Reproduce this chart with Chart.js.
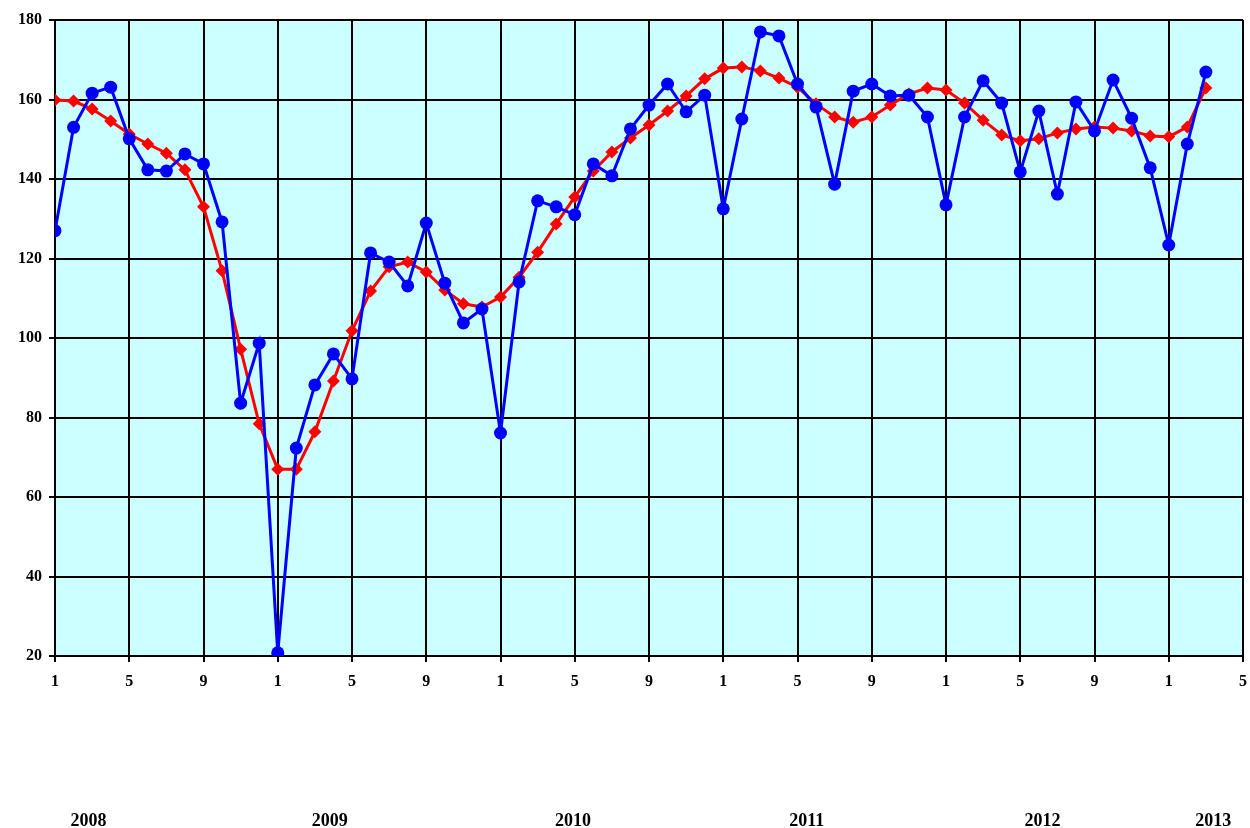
<!DOCTYPE html>
<html>
<head>
<meta charset="utf-8">
<script src="https://cdn.jsdelivr.net/npm/chart.js@4/dist/chart.umd.min.js"></script>
<style>
  html, body { margin: 0; padding: 0; background: #fff; }
  #wrap { width: 1250px; height: 828px; }
</style>
</head>
<body>
<div id="wrap"><canvas id="chart" width="1250" height="828"></canvas></div>
<script>
// Maanedlige vaerdier, jan 2008 - mar 2013
var blueValues = [127, 153, 161.6, 163.1, 150.1, 142.3, 142, 146.3, 143.8, 129.2, 83.6, 98.7,
    20.8, 72.3, 88.2, 96, 89.7, 121.4, 119.1, 113.1, 128.9, 113.8, 103.8, 107.3,
    76.1, 114.1, 134.5, 133, 131, 143.8, 140.8, 152.6, 158.6, 163.9, 156.9, 161.1,
    132.5, 155.1, 177, 176, 163.9, 158.1, 138.7, 162.1, 163.9, 160.9, 161.1, 155.6,
    133.5, 155.6, 164.7, 159.1, 141.8, 157.1, 136.2, 159.4, 152.1, 164.9, 155.3, 142.8,
    123.4, 148.8, 166.9];

var redValues = [159.9, 159.6, 157.6, 154.6, 151.3, 148.8, 146.5, 142.3, 133, 116.9, 97.2, 78.4,
    67, 67, 76.4, 89.2, 101.8, 111.8, 117.9, 119.1, 116.6, 112.1, 108.6, 107.8,
    110.3, 115.3, 121.6, 128.7, 135.5, 142, 146.8, 150.3, 153.6, 157.1, 160.9, 165.2,
    167.9, 168.2, 167.2, 165.4, 163.1, 158.9, 155.6, 154.3, 155.6, 158.6, 161.4, 162.9,
    162.4, 159.1, 154.8, 151.1, 149.6, 150.1, 151.6, 152.6, 153.1, 152.8, 152.1, 150.8,
    150.6, 153.1, 162.9];

var monthLabels = ["1", "5", "9"];
var yearLabels = ["2008", "2009", "2010", "2011", "2012", "2013"];

// hvor aarstallene staar paa x-aksen (i maaneder fra jan 2008)
var yearTickAt = [1.8, 14.8, 27.9, 40.5, 53.2, 62.4];

function toPoints(arr) {
    return arr.map(function (v, i) { return { x: i, y: v }; });
}

var labelFont = { family: "'Liberation Serif', 'Times New Roman', serif", size: 16, weight: 'bold' };

// Farv plotomraadet lyseblaat
var plotBg = {
    id: 'plotBg',
    beforeDraw: function (chart) {
        var a = chart.chartArea;
        var c = chart.ctx;
        c.save();
        c.fillStyle = '#CCFFFF';
        c.fillRect(a.left, a.top, a.right - a.left, a.bottom - a.top);
        c.restore();
    }
};

var ctx = document.getElementById('chart').getContext('2d');
var myChart = new Chart(ctx, {
    type: 'line',
    data: {
        datasets: [
            {
                label: 'blue',
                data: toPoints(blueValues),
                borderColor: '#0000FF',
                backgroundColor: '#0000FF',
                borderWidth: 3,
                pointStyle: 'circle',
                pointRadius: 6.5,
                pointBorderWidth: 0,
                tension: 0,
                order: 1
            },
            {
                label: 'red',
                data: toPoints(redValues),
                borderColor: '#FF0000',
                backgroundColor: '#FF0000',
                borderWidth: 3,
                pointStyle: 'rectRot',
                pointRadius: 6.5,
                pointBorderWidth: 0,
                tension: 0,
                order: 2
            }
        ]
    },
    options: {
        responsive: false,
        animation: false,
        layout: { padding: { top: 20, right: 7, left: 0, bottom: 0 } },
        plugins: {
            legend: { display: false },
            tooltip: { enabled: false }
        },
        scales: {
            x: {
                type: 'linear',
                position: 'bottom',
                min: 0,
                max: 64,
                weight: 0,
                afterBuildTicks: function (axis) {
                    var t = [];
                    for (var v = 0; v <= 64; v += 4) t.push({ value: v });
                    axis.ticks = t;
                },
                afterFit: function (axis) {
                    axis.height = 40;
                    axis.paddingLeft = 0;
                    axis.paddingRight = 0;
                },
                ticks: {
                    color: '#000',
                    font: labelFont,
                    padding: 10,
                    maxRotation: 0,
                    autoSkip: false,
                    callback: function (v) { return monthLabels[(v % 12) / 4]; }
                },
                grid: { color: '#000', lineWidth: 2, tickLength: 6, drawTicks: true },
                border: { color: '#000', width: 2 }
            },
            xYear: {
                type: 'linear',
                position: 'bottom',
                min: 0,
                max: 64,
                weight: 1,
                afterBuildTicks: function (axis) {
                    axis.ticks = yearTickAt.map(function (p) { return { value: p }; });
                },
                afterFit: function (axis) {
                    axis.height = 132;
                    axis.paddingLeft = 0;
                    axis.paddingRight = 0;
                },
                ticks: {
                    color: '#000',
                    font: { family: labelFont.family, size: 18, weight: 'bold' },
                    padding: 0,
                    maxRotation: 0,
                    autoSkip: false,
                    callback: function (v, i) { return yearLabels[i]; }
                },
                // usynlige tick-streger skubber aarstallene ned
                grid: { display: false, drawTicks: true, tickLength: 115 },
                border: { display: false }
            },
            y: {
                min: 20,
                max: 180,
                afterFit: function (axis) { axis.width = 55; },
                ticks: {
                    stepSize: 20,
                    color: '#000',
                    font: labelFont,
                    padding: 7
                },
                grid: { color: '#000', lineWidth: 2, tickLength: 6, drawTicks: true },
                border: { color: '#000', width: 2 }
            }
        }
    },
    plugins: [plotBg]
});
</script>
</body>
</html>
